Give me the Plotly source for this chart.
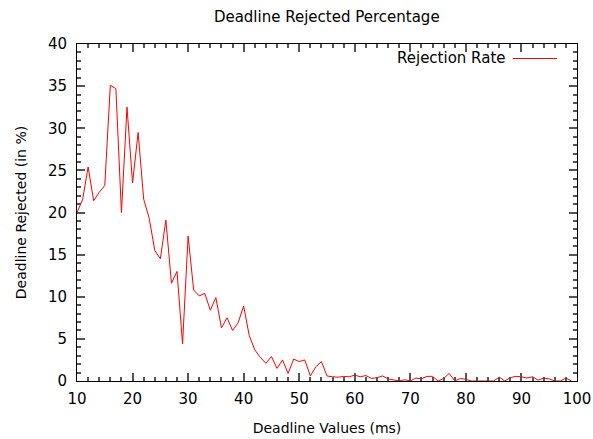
import plotly.graph_objects as go

deadline_ms = list(range(10, 100))
rejected_pct = [
    20.0, 21.5, 25.4, 21.4, 22.4, 23.2, 35.1, 34.7, 20.0, 32.5,   # 10-19
    23.5, 29.5, 21.6, 19.3, 15.5, 14.5, 19.1, 11.6, 13.0, 4.4,    # 20-29
    17.2, 10.8, 10.1, 10.4, 8.4, 9.9, 6.3, 7.5, 6.0, 6.9,         # 30-39
    8.9, 5.4, 3.7, 2.8, 2.1, 2.9, 1.5, 2.5, 0.9, 2.6,             # 40-49
    2.3, 2.5, 0.6, 1.7, 2.3, 0.6, 0.5, 0.45, 0.55, 0.5,           # 50-59
    0.7, 0.5, 0.65, 0.3, 0.4, 0.6, 0.25, 0.15, 0.0, 0.15,         # 60-69
    0.0, 0.35, 0.25, 0.55, 0.55, 0.0, 0.3, 0.9, 0.0, 0.3,         # 70-79
    0.2, 0.0, 0.0, 0.0, 0.0, 0.0, 0.45, 0.0, 0.4, 0.55,           # 80-89
    0.5, 0.35, 0.5, 0.1, 0.35, 0.25, 0.0, 0.0, 0.35, 0.0,         # 90-99
]
x_range = [10, 100]
y_range = [0, 40]
x_major_step, x_minor_step = 10, 2
y_major_step, y_minor_step = 5, 1

FONT = "DejaVu Sans"
TICK_COLOR = "#555555"

fig = go.Figure()
fig.add_trace(go.Scatter(
    x=deadline_ms, y=rejected_pct, mode="lines",
    name="Rejection Rate",
    line=dict(color="#ff0000", width=1),
    showlegend=False,
))

fig.update_layout(
    template="none",
    width=593, height=439,
    margin=dict(l=77, r=16, t=44, b=58),
    paper_bgcolor="white", plot_bgcolor="white",
    title=dict(text="Deadline Rejected Percentage", x=0.551, xanchor="center",
               y=0.962, yanchor="middle",
               font=dict(family=FONT, size=15, color="black")),
    xaxis=dict(
        range=x_range, tickmode="linear", tick0=x_range[0], dtick=x_major_step,
        ticks="inside", ticklen=8, tickwidth=2, tickcolor=TICK_COLOR,
        ticklabelstandoff=4,
        showgrid=False, zeroline=False, automargin=False,
        showline=True, linecolor="black", linewidth=1, mirror="allticks",
        tickfont=dict(family=FONT, size=15, color="black"),
        title=dict(text="Deadline Values (ms)",
                   font=dict(family=FONT, size=14, color="black"), standoff=16),
    ),
    yaxis=dict(
        range=y_range, tickmode="linear", tick0=y_range[0], dtick=y_major_step,
        ticks="inside", ticklen=8, tickwidth=2, tickcolor=TICK_COLOR,
        ticklabelstandoff=6,
        showgrid=False, zeroline=False, automargin=False,
        showline=True, linecolor="black", linewidth=1, mirror="allticks",
        tickfont=dict(family=FONT, size=15, color="black"),
        title=dict(text="Deadline Rejected (in %)",
                   font=dict(family=FONT, size=14, color="black"), standoff=18),
    ),
    # overlay axes that only carry the minor ticks
    xaxis2=dict(
        overlaying="x", anchor="y", side="bottom",
        range=x_range, tickmode="linear", tick0=x_range[0], dtick=x_minor_step,
        ticks="inside", ticklen=4, tickwidth=2, tickcolor=TICK_COLOR,
        showticklabels=False, showgrid=False, zeroline=False, showline=False,
        mirror="ticks", automargin=False, fixedrange=True,
    ),
    yaxis2=dict(
        overlaying="y", anchor="x", side="left",
        range=y_range, tickmode="linear", tick0=y_range[0], dtick=y_minor_step,
        ticks="inside", ticklen=4, tickwidth=2, tickcolor=TICK_COLOR,
        showticklabels=False, showgrid=False, zeroline=False, showline=False,
        mirror="ticks", automargin=False, fixedrange=True,
    ),
)

# empty trace so the overlay axes get a subplot
fig.add_trace(go.Scatter(x=[], y=[], xaxis="x2", yaxis="y2",
                         showlegend=False, hoverinfo="skip"))

# gnuplot-style key: text on the left, line sample on the right
fig.add_annotation(
    xref="paper", yref="paper", x=0.862, y=0.957,
    xanchor="right", yanchor="middle", showarrow=False,
    text="Rejection Rate", font=dict(family=FONT, size=15, color="black"),
)
fig.add_shape(
    type="line", xref="paper", yref="paper",
    x0=0.872, x1=0.96, y0=0.957, y1=0.957,
    line=dict(color="#ff0000", width=1),
)

fig.write_html("out.html")
